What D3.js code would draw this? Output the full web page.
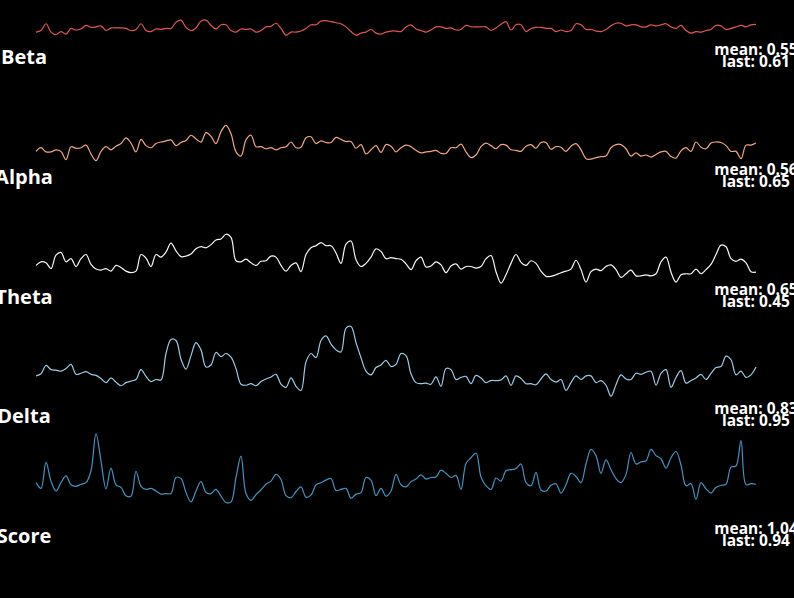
<!DOCTYPE html>
<html>
<head>
<meta charset="utf-8">
<script src="https://cdn.jsdelivr.net/npm/d3@7"></script>
<style>
  html, body { margin: 0; padding: 0; background: #000; }
  svg { display: block; }
</style>
</head>
<body>
<div id="chart"></div>
<script>
// band names, colours and the two numbers printed at the right of each row
var bands = ['Beta', 'Alpha', 'Theta', 'Delta', 'Score'];
var colors = ['#e05550', '#f4a582', '#f7f7f7', '#9ccbe6', '#4393c3'];
var means = ['0.55', '0.56', '0.65', '0.83', '1.04'];
var lasts = ['0.61', '0.65', '0.45', '0.95', '0.94'];

// traces (one sample every few pixels)
var beta = [.46,.49,.62,.46,.41,.47,.42,.53,.50,.52, .59,.55,.56,.58,.49,.54,.54,.54,.53,.49,
  .51,.62,.49,.47,.52,.51,.53,.53,.65,.69, .55,.49,.54,.67,.69,.59,.52,.60,.60,.49,
  .46,.52,.51,.52,.46,.49,.56,.57,.63,.53, .40,.46,.46,.48,.53,.60,.60,.67,.68,.66,
  .64,.62,.56,.47,.40,.44,.46,.51,.44,.42, .46,.48,.48,.47,.56,.60,.52,.49,.46,.50,
  .56,.56,.53,.54,.50,.51,.59,.56,.56,.56, .56,.49,.54,.61,.66,.50,.60,.60,.47,.53,
  .55,.55,.53,.53,.47,.50,.47,.49,.62,.60, .51,.51,.48,.47,.51,.58,.63,.63,.58,.60,
  .60,.56,.56,.60,.58,.60,.62,.56,.53,.59, .49,.44,.47,.46,.49,.51,.59,.58,.51,.53,
  .56,.59,.56,.60,.61];

var alpha = [.47,.54,.46,.46,.50,.47,.31,.56,.53,.54, .59,.42,.29,.47,.56,.50,.57,.62,.73,.63,
  .46,.70,.58,.54,.62,.65,.67,.69,.58,.64, .68,.78,.71,.65,.83,.76,.62,.85,.97,.81,
  .46,.38,.69,.78,.56,.56,.52,.54,.50,.54, .56,.65,.54,.55,.73,.75,.62,.67,.64,.64,
  .74,.70,.66,.66,.53,.60,.42,.50,.58,.45, .60,.57,.46,.54,.59,.56,.49,.44,.46,.47,
  .49,.43,.43,.54,.54,.61,.46,.35,.40,.56, .63,.58,.52,.60,.59,.50,.49,.47,.57,.60,
  .53,.64,.64,.51,.56,.55,.47,.57,.62,.50, .33,.32,.35,.37,.38,.54,.60,.60,.52,.38,
  .44,.38,.40,.36,.41,.46,.47,.37,.34,.48, .54,.47,.65,.55,.52,.63,.65,.64,.58,.47,
  .47,.33,.59,.59,.63];

var theta = [.58,.65,.63,.52,.78,.83,.65,.71,.56,.71, .79,.60,.51,.49,.52,.47,.58,.54,.47,.44,
  .47,.79,.72,.56,.79,.74,.84,1.01,.86,.75, .76,.80,.90,.94,.92,.98,1.07,1.09,1.18,1.12,
  .67,.65,.70,.63,.58,.66,.67,.76,.74,.58, .47,.58,.63,.46,.79,.92,.96,1.02,.96,.96,
  .82,.62,.99,1.05,.69,.56,.62,.74,.90,.85, .71,.73,.71,.70,.61,.50,.67,.74,.55,.57,
  .65,.59,.44,.57,.61,.51,.56,.56,.53,.56, .71,.77,.46,.24,.40,.62,.79,.64,.58,.67,
  .62,.47,.37,.37,.40,.44,.47,.51,.68,.50, .26,.46,.51,.48,.56,.59,.50,.35,.42,.49,
  .38,.38,.40,.38,.42,.65,.74,.45,.26,.40, .42,.42,.51,.42,.50,.60,.79,.97,.94,.71,
  .66,.70,.63,.46,.45];

var delta = [.76,.80,.96,.88,.87,.85,.90,.98,.79,.81, .84,.79,.77,.71,.63,.72,.64,.57,.63,.66,
  .69,.88,.75,.65,.69,.68,1.19,1.46,1.44,1.08, .89,1.15,1.40,1.26,.93,.97,1.21,1.13,1.19,1.12,
  .90,.60,.58,.61,.57,.65,.70,.74,.79,.60, .54,.72,.56,.48,1.03,1.19,1.11,1.44,1.53,1.37,
  1.26,1.22,1.68,1.71,1.40,1.11,.85,.78,.92,.97, 1.06,.94,.98,1.19,1.15,.80,.63,.61,.62,.60,
  .74,.56,.90,.88,.69,.73,.75,.61,.77,.72, .63,.67,.67,.68,.76,.58,.76,.71,.61,.61,
  .59,.70,.80,.69,.64,.69,.48,.63,.76,.69, .76,.76,.63,.67,.58,.37,.59,.78,.70,.69,
  .81,.79,.83,.85,.58,.81,.88,.54,.73,.86, .62,.67,.72,.79,.69,.81,.92,.94,1.14,1.07,
  .78,.85,.73,.78,.93];

var score = [1.01,.90,1.40,1.04,.85,1.01,1.14,.97,.94,.98, 1.01,1.24,1.95,1.43,.89,1.29,.97,.92,.76,.75,
  1.23,.94,.88,.90,.85,.79,.80,.80,1.11,1.09, .82,.64,.85,1.03,.82,.80,.88,.75,.63,.64,
  1.11,1.52,.80,.67,.78,.87,.98,1.04,1.17,1.07, .76,.72,.84,.93,.73,.77,.97,1.01,1.06,1.09,
  .86,.88,.90,.71,.79,.82,1.11,1.06,.76,.90, .75,.85,1.17,.97,.93,1.03,1.08,1.16,1.08,1.11,
  1.12,1.25,1.19,1.11,1.15,.88,1.38,1.49,1.58,1.12, .95,.88,1.10,1.04,1.24,1.26,1.28,1.37,1.01,.95,
  1.21,.87,.85,.96,.99,.81,.97,1.19,1.13,1.01, 1.37,1.65,1.53,1.19,1.45,1.26,1.09,1.01,1.17,1.59,
  1.37,1.41,1.43,1.65,1.53,1.47,1.29,1.49,1.61,1.35, .95,.99,.69,1.01,.89,.81,.92,.96,.98,1.31,
  1.33,1.82,.97,.99,.98];

var series = [beta, alpha, theta, delta, score];

var width = 794, height = 598;
var rowH = 119.8;

var svg = d3.select('#chart').append('svg')
  .attr('width', width)
  .attr('height', height);

svg.append('rect')
  .attr('width', width)
  .attr('height', height)
  .attr('fill', '#000');

var x = d3.scaleLinear()
  .domain([0, beta.length - 1])
  .range([36, 756]);

// same vertical scale in every row, only the row offset changes
var y = d3.scaleLinear()
  .domain([0, 1])
  .range([56, 4]);

var line = d3.line()
  .x(function(d, i){ return x(i); })
  .y(function(d){ return y(d); })
  .curve(d3.curveCatmullRom.alpha(0.5));

bands.forEach(function(name, i){
  var g = svg.append('g')
    .attr('transform', 'translate(0,' + (i * rowH) + ')');

  g.append('path')
    .datum(series[i])
    .attr('fill', 'none')
    .attr('stroke', colors[i])
    .attr('stroke-width', 1.2)
    .attr('d', line);

  g.append('text')
    .attr('x', 24)
    .attr('y', 64)
    .attr('text-anchor', 'middle')
    .attr('fill', '#fff')
    .style('font-family', '"Open Sans", sans-serif')
    .style('font-weight', 'bold')
    .style('font-size', '20px')
    .text(name);

  // mean and last sit almost on top of each other, as in the original
  g.append('text')
    .attr('x', 756)
    .attr('y', 55)
    .attr('text-anchor', 'middle')
    .attr('fill', '#fff')
    .style('font-family', '"Open Sans", sans-serif')
    .style('font-weight', 'bold')
    .style('font-size', '15.5px')
    .text('mean: ' + means[i]);

  g.append('text')
    .attr('x', 756)
    .attr('y', 67)
    .attr('text-anchor', 'middle')
    .attr('fill', '#fff')
    .style('font-family', '"Open Sans", sans-serif')
    .style('font-weight', 'bold')
    .style('font-size', '15.5px')
    .text('last: ' + lasts[i]);
});
</script>
</body>
</html>
